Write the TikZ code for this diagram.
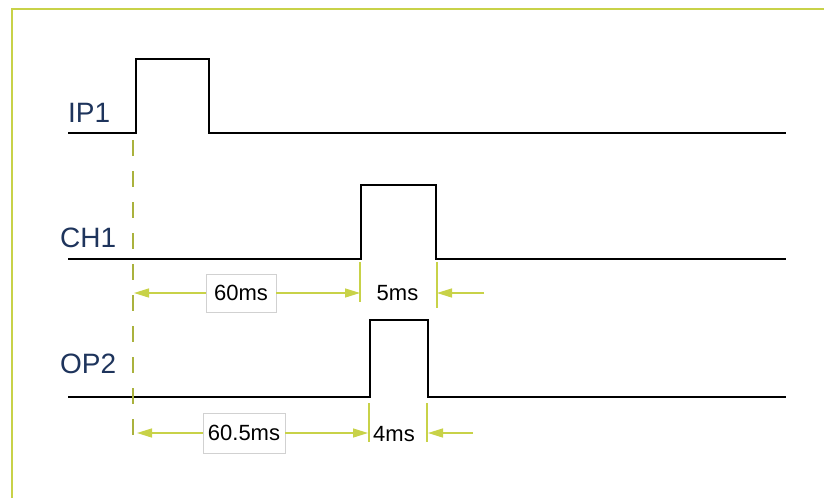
\documentclass[tikz,border=0pt]{standalone}
\usepackage{fontspec}
\setmainfont{Liberation Sans}
\usetikzlibrary{arrows.meta}
\definecolor{lime}{RGB}{200,210,72}
\definecolor{navy}{RGB}{30,52,92}
\begin{document}
\begin{tikzpicture}[x=1pt,y=-1pt,
  frameline/.style={lime, line width=2pt},
  signal/.style={black, line width=2.4pt, line join=miter},
  extline/.style={lime, line width=1.6pt},
  refline/.style={lime!85!black, line width=1.6pt, dash pattern=on 16pt off 15pt},
  dimline/.style={lime, line width=1.4pt, -{Triangle[length=15pt,width=9pt]}},
  sigtext/.style={text=navy, font=\fontsize{28}{30}\selectfont, anchor=base west, inner sep=0pt},
  dimtext/.style={font=\fontsize{22}{24}\selectfont, text=black, inner sep=0pt},
  dimbox/.style={dimtext, draw=black!18, fill=white, line width=0.8pt}]
\useasboundingbox (0,0) rectangle (824,498);

% frame
\draw[frameline] (824,9) -- (12,9) -- (12,498);

% signal names
\node[sigtext] (ip1) at (68,122) {IP1};
\node[sigtext] (ch1) at (60,247) {CH1};
\node[sigtext] (op2) at (60,373) {OP2};

% waveforms
\draw[signal] (68,133) -- (136,133) -- (136,59) -- (209,59) -- (209,133) -- (786,133);
\draw[signal] (68,259) -- (361,259) -- (361,185) -- (436,185) -- (436,259) -- (786,259);
\draw[signal] (68,397) -- (370,397) -- (370,320) -- (428,320) -- (428,397) -- (786,397);

% reference line at the input edge
\coordinate (reftop) at (133,140);
\coordinate (refbot) at (133,441);
\draw[refline] (reftop) -- (refbot);

% extension lines at the pulse edges
\coordinate (e1t) at (360,262); \coordinate (e1b) at (360,302);
\coordinate (e2t) at (437,262); \coordinate (e2b) at (437,308);
\coordinate (e3t) at (369,403); \coordinate (e3b) at (369,442);
\coordinate (e4t) at (427,403); \coordinate (e4b) at (427,442);
\draw[extline] (e1t) -- (e1b);
\draw[extline] (e2t) -- (e2b);
\draw[extline] (e3t) -- (e3b);
\draw[extline] (e4t) -- (e4b);

% CH1 delay and width
\node[dimbox, minimum width=70pt, minimum height=38pt] (d60) at (241,293) {60ms};
\coordinate (a1l) at (134,293);
\coordinate (a1r) at (360,293);
\draw[dimline] (d60.west) -- (a1l);
\draw[dimline] (d60.east) -- (a1r);
\node[dimtext] (w5) at (397.5,293) {5ms};
\coordinate (a2s) at (484,293);
\coordinate (a2e) at (437,293);
\draw[dimline] (a2s) -- (a2e);

% OP2 delay and width
\node[dimbox, minimum width=82pt, minimum height=40pt] (d605) at (244,433) {60.5ms};
\coordinate (b1l) at (137,433);
\coordinate (b1r) at (368,433);
\draw[dimline] (d605.west) -- (b1l);
\draw[dimline] (d605.east) -- (b1r);
\node[dimtext] (w4) at (394,434) {4ms};
\coordinate (b2s) at (473,433);
\coordinate (b2e) at (428,433);
\draw[dimline] (b2s) -- (b2e);
\end{tikzpicture}
\end{document}
